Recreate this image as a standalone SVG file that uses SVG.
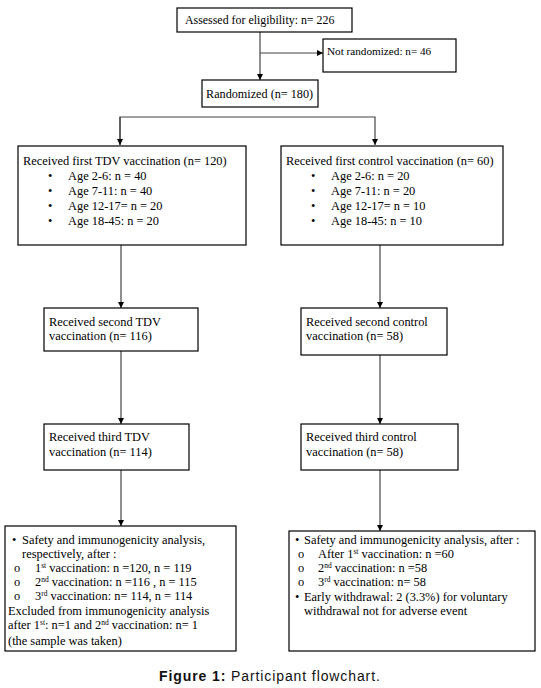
<svg xmlns="http://www.w3.org/2000/svg" width="541" height="688" viewBox="0 0 541 688">
<defs>
<marker id="arr" viewBox="0 0 10 10" refX="10" refY="5" markerWidth="6" markerHeight="7" markerUnits="userSpaceOnUse" orient="auto">
<path d="M0,0 L10,5 L0,10 Z" fill="#000"/>
</marker>
<style>
.box{fill:#fff;stroke:#000;stroke-width:1.2}
.t{font-family:"Liberation Serif","Times New Roman",serif;font-size:12.4px;fill:#000}
.sup{font-size:7.5px}
.con{fill:none;stroke:#444;stroke-width:1.2}
.cap{font-family:"Liberation Sans",Arial,sans-serif;font-size:14px;letter-spacing:0.9px;fill:#111}
</style>
</defs>
<rect width="541" height="688" fill="#fff"/>
<g id="connectors">
<line class="con" x1="260" y1="32" x2="260" y2="80" marker-end="url(#arr)"/>
<line class="con" x1="260" y1="53" x2="323" y2="53" marker-end="url(#arr)"/>
<polyline class="con" points="120,145 120,117 375,117 375,145" marker-end="url(#arr)"/>
<line class="con" x1="120" y1="117" x2="120" y2="145" marker-end="url(#arr)"/>
<line class="con" x1="121" y1="245" x2="121" y2="308" marker-end="url(#arr)"/>
<line class="con" x1="380" y1="245" x2="380" y2="308" marker-end="url(#arr)"/>
<line class="con" x1="121" y1="351" x2="121" y2="424" marker-end="url(#arr)"/>
<line class="con" x1="380" y1="355" x2="380" y2="424" marker-end="url(#arr)"/>
<line class="con" x1="121" y1="470" x2="121" y2="526" marker-end="url(#arr)"/>
<line class="con" x1="380" y1="470" x2="380" y2="531" marker-end="url(#arr)"/>
</g>
<g id="assessed">
<rect class="box" x="177" y="8" width="175" height="24"/>
<text class="t" x="185" y="24" style="font-size:11.9px">Assessed for eligibility: n= 226</text>
</g>
<g id="not-randomized">
<rect class="box" x="323" y="39" width="133" height="33"/>
<text class="t" x="327" y="55" style="font-size:11.2px">Not randomized: n= 46</text>
</g>
<g id="randomized">
<rect class="box" x="202" y="80" width="116" height="27"/>
<text class="t" x="206" y="98" style="font-size:12.2px">Randomized (n= 180)</text>
</g>
<g id="first-tdv">
<rect class="box" x="18" y="146" width="228" height="99"/>
<text class="t" x="23" y="165">Received first TDV vaccination (n= 120)</text>
<text class="t" x="48" y="180">•</text><text class="t" x="68" y="180">Age 2-6: n = 40</text>
<text class="t" x="48" y="195">•</text><text class="t" x="68" y="195">Age 7-11: n = 40</text>
<text class="t" x="48" y="210">•</text><text class="t" x="68" y="210">Age 12-17= n = 20</text>
<text class="t" x="48" y="225">•</text><text class="t" x="68" y="225">Age 18-45: n = 20</text>
</g>
<g id="first-control">
<rect class="box" x="281" y="146" width="222" height="99"/>
<text class="t" x="286" y="165">Received first control vaccination (n= 60)</text>
<text class="t" x="311" y="180">•</text><text class="t" x="331" y="180">Age 2-6: n = 20</text>
<text class="t" x="311" y="195">•</text><text class="t" x="331" y="195">Age 7-11: n = 20</text>
<text class="t" x="311" y="210">•</text><text class="t" x="331" y="210">Age 12-17= n = 10</text>
<text class="t" x="311" y="225">•</text><text class="t" x="331" y="225">Age 18-45: n = 10</text>
</g>
<g id="second-tdv">
<rect class="box" x="44" y="308" width="154" height="43"/>
<text class="t" x="49" y="326">Received second TDV</text>
<text class="t" x="49" y="340">vaccination (n= 116)</text>
</g>
<g id="second-control">
<rect class="box" x="301" y="308" width="146" height="47"/>
<text class="t" x="306" y="326">Received second control</text>
<text class="t" x="306" y="340">vaccination (n= 58)</text>
</g>
<g id="third-tdv">
<rect class="box" x="44" y="424" width="145" height="46"/>
<text class="t" x="49" y="441">Received third TDV</text>
<text class="t" x="49" y="456">vaccination (n= 114)</text>
</g>
<g id="third-control">
<rect class="box" x="301" y="424" width="157" height="46"/>
<text class="t" x="306" y="441">Received third control</text>
<text class="t" x="306" y="456">vaccination (n= 58)</text>
</g>
<g id="analysis-tdv">
<rect class="box" x="5" y="526" width="231" height="125"/>
<text class="t" x="12" y="544">•</text><text class="t" x="22" y="544">Safety and immunogenicity analysis,</text>
<text class="t" x="22" y="558">respectively, after :</text>
<text class="t" x="14" y="572">o</text><text class="t" x="35" y="572">1<tspan class="sup" dy="-4">st</tspan><tspan dy="4"> vaccination: n =120, n = 119</tspan></text>
<text class="t" x="14" y="586">o</text><text class="t" x="35" y="586">2<tspan class="sup" dy="-4">nd</tspan><tspan dy="4"> vaccination: n =116 , n = 115</tspan></text>
<text class="t" x="14" y="600">o</text><text class="t" x="35" y="600">3<tspan class="sup" dy="-4">rd</tspan><tspan dy="4"> vaccination: n= 114, n = 114</tspan></text>
<text class="t" x="8" y="615">Excluded from immunogenicity analysis</text>
<text class="t" x="8" y="629">after 1<tspan class="sup" dy="-4">st</tspan><tspan dy="4">: n=1 and 2</tspan><tspan class="sup" dy="-4">nd</tspan><tspan dy="4"> vaccination: n= 1</tspan></text>
<text class="t" x="8" y="645">(the sample was taken)</text>
</g>
<g id="analysis-control">
<rect class="box" x="289" y="531" width="246" height="120"/>
<text class="t" x="295" y="544">•</text><text class="t" x="304" y="544">Safety and immunogenicity analysis, after :</text>
<text class="t" x="298" y="558">o</text><text class="t" x="318" y="558">After 1<tspan class="sup" dy="-4">st</tspan><tspan dy="4"> vaccination: n =60</tspan></text>
<text class="t" x="298" y="572">o</text><text class="t" x="318" y="572">2<tspan class="sup" dy="-4">nd</tspan><tspan dy="4"> vaccination: n =58</tspan></text>
<text class="t" x="298" y="586">o</text><text class="t" x="318" y="586">3<tspan class="sup" dy="-4">rd</tspan><tspan dy="4"> vaccination: n= 58</tspan></text>
<text class="t" x="295" y="601">•</text><text class="t" x="304" y="601">Early withdrawal: 2 (3.3%) for voluntary</text>
<text class="t" x="304" y="615">withdrawal not for adverse event</text>
</g>
<g id="caption">
<text class="cap" x="159" y="681"><tspan font-weight="bold">Figure 1:</tspan> Participant flowchart.</text>
</g>
</svg>
